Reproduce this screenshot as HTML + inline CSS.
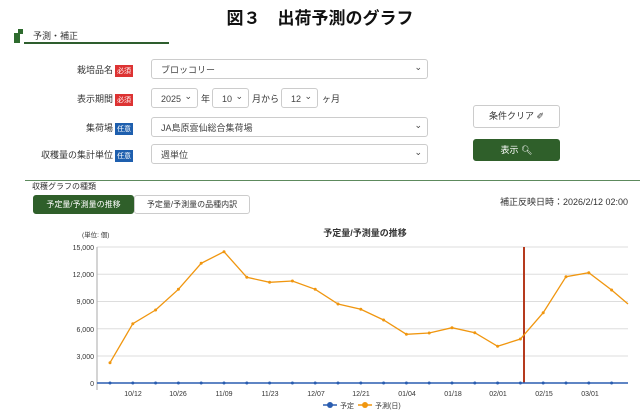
<!DOCTYPE html>
<html><head><meta charset="utf-8"><style>
body{margin:0;width:640px;height:418px;background:#fff;font-family:"Liberation Sans","Noto Sans CJK JP",sans-serif;position:relative;overflow:hidden;color:#333}
.a{position:absolute;white-space:nowrap}
.lbl{font-size:9px;text-align:right;width:120px;left:0}
.bd{display:inline-block;font-size:7px;color:#fff;padding:1px 2px;margin-left:2px;vertical-align:middle}
.sel{position:absolute;border:1px solid #ccc;border-radius:3px;height:20px;font-size:9px;line-height:20px;padding-left:9px;box-sizing:border-box;color:#444;background:#fff}
.sel:after{content:"⌄";position:absolute;right:5px;top:-3px;font-size:9px}
.btn{position:absolute;border:1px solid #ccc;border-radius:3px;font-size:9px;text-align:center;box-sizing:border-box}
</style></head><body>
<div class="a" style="left:0;width:640px;text-align:center;top:4px;font-size:17px;font-weight:bold;color:#111">図３　出荷予測のグラフ</div>
<div class="a" style="left:14px;top:33px;width:6px;height:10px;background:#2e6b2e"></div>
<div class="a" style="left:18px;top:29px;width:5px;height:5px;background:#2e6b2e"></div>
<div class="a" style="left:33px;top:29px;font-size:9px">予測・補正</div>
<div class="a" style="left:24px;top:42px;width:145px;height:2px;background:#2e5e2e"></div>

<div class="a lbl" style="top:63px;width:133px">栽培品名<span class="bd" style="background:#d33">必須</span></div>
<div class="sel" style="left:151px;top:59px;width:277px">ブロッコリー</div>
<div class="a lbl" style="top:92px;width:133px">表示期間<span class="bd" style="background:#d33">必須</span></div>
<div class="sel" style="left:151px;top:88px;width:47px">2025</div>
<div class="a" style="left:201px;top:92px;font-size:9px">年</div>
<div class="sel" style="left:212px;top:88px;width:37px">10</div>
<div class="a" style="left:252px;top:92px;font-size:9px">月から</div>
<div class="sel" style="left:281px;top:88px;width:37px">12</div>
<div class="a" style="left:322px;top:92px;font-size:9px">ヶ月</div>
<div class="a lbl" style="top:121px;width:133px">集荷場<span class="bd" style="background:#1e5fae">任意</span></div>
<div class="sel" style="left:151px;top:117px;width:277px">JA島原雲仙総合集荷場</div>
<div class="a lbl" style="top:148px;width:133px">収穫量の集計単位<span class="bd" style="background:#1e5fae">任意</span></div>
<div class="sel" style="left:151px;top:144px;width:277px">週単位</div>
<div class="btn" style="left:473px;top:105px;width:87px;height:23px;line-height:21px">条件クリア ✐</div>
<div class="btn" style="left:473px;top:139px;width:87px;height:22px;line-height:20px;background:#2f5f2a;color:#fff;border-color:#2f5f2a">表示 🔍︎</div>
<div class="a" style="left:25px;top:180px;width:615px;height:1px;background:#5d8a5d"></div>
<div class="a" style="left:32px;top:181px;font-size:8px">収穫グラフの種類</div>
<div class="btn" style="left:33px;top:195px;width:101px;height:19px;line-height:17px;background:#2f5f2a;color:#fff;border-color:#2f5f2a;font-size:8px">予定量/予測量の推移</div>
<div class="btn" style="left:134px;top:195px;width:116px;height:19px;line-height:17px;font-size:8px">予定量/予測量の品種内訳</div>
<div class="a" style="right:12px;top:195px;font-size:9px">補正反映日時：2026/2/12 02:00</div>

<svg class="a" style="left:0;top:0" width="640" height="418" font-family="Liberation Sans,Noto Sans CJK JP,sans-serif">
<text x="82" y="237" font-size="6.5" fill="#333">(単位: 個)</text>
<text x="365" y="236" font-size="9" font-weight="bold" text-anchor="middle" fill="#333">予定量/予測量の推移</text>
<g stroke="#ddd" stroke-width="1">
<line x1="97" x2="628" y1="247" y2="247"/><line x1="97" x2="628" y1="274.3" y2="274.3"/><line x1="97" x2="628" y1="301.5" y2="301.5"/><line x1="97" x2="628" y1="328.8" y2="328.8"/><line x1="97" x2="628" y1="356" y2="356"/></g>
<line x1="97" x2="97" y1="247" y2="390" stroke="#aaa"/>
<g font-size="7" fill="#333" text-anchor="end">
<text x="94" y="250">15,000</text><text x="94" y="277">12,000</text><text x="94" y="304">9,000</text><text x="94" y="332">6,000</text><text x="94" y="359">3,000</text><text x="94" y="386">0</text></g>
<g font-size="7" fill="#333" text-anchor="middle">
<text x="133" y="396">10/12</text><text x="178" y="396">10/26</text><text x="224" y="396">11/09</text><text x="270" y="396">11/23</text><text x="316" y="396">12/07</text><text x="361" y="396">12/21</text><text x="407" y="396">01/04</text><text x="453" y="396">01/18</text><text x="498" y="396">02/01</text><text x="544" y="396">02/15</text><text x="590" y="396">03/01</text></g>
<line x1="524" x2="524" y1="247" y2="383" stroke="#b53a1e" stroke-width="2"/>
<line x1="97" x2="628" y1="383" y2="383" stroke="#2a5db0" stroke-width="1.5"/>
<g fill="#2a5db0">
<circle cx="110" cy="383" r="1.5"/><circle cx="132.8" cy="383" r="1.5"/><circle cx="155.6" cy="383" r="1.5"/><circle cx="178.4" cy="383" r="1.5"/><circle cx="201.2" cy="383" r="1.5"/><circle cx="224" cy="383" r="1.5"/><circle cx="246.8" cy="383" r="1.5"/><circle cx="269.6" cy="383" r="1.5"/><circle cx="292.4" cy="383" r="1.5"/><circle cx="315.2" cy="383" r="1.5"/><circle cx="338" cy="383" r="1.5"/><circle cx="360.8" cy="383" r="1.5"/><circle cx="383.6" cy="383" r="1.5"/><circle cx="406.4" cy="383" r="1.5"/><circle cx="429.2" cy="383" r="1.5"/><circle cx="452" cy="383" r="1.5"/><circle cx="474.8" cy="383" r="1.5"/><circle cx="497.6" cy="383" r="1.5"/><circle cx="520.4" cy="383" r="1.5"/><circle cx="543.2" cy="383" r="1.5"/><circle cx="566" cy="383" r="1.5"/><circle cx="588.8" cy="383" r="1.5"/><circle cx="611.6" cy="383" r="1.5"/></g>
<polyline fill="none" stroke="#f0960f" stroke-width="1.3" points="110,362.7 132.8,323.7 155.6,310 178.4,289.3 201.2,263.3 224,251.7 246.8,277.3 269.6,282.3 292.4,281 315.2,289.3 338,304 360.8,309.3 383.6,320 406.4,334.3 429.2,333 452,327.7 474.8,332.7 497.6,346.3 520.4,339 543.2,312.7 566,276.7 588.8,272.7 611.6,290 628,304"/>
<g fill="#f0960f">
<circle cx="110" cy="362.7" r="1.5"/><circle cx="132.8" cy="323.7" r="1.5"/><circle cx="155.6" cy="310" r="1.5"/><circle cx="178.4" cy="289.3" r="1.5"/><circle cx="201.2" cy="263.3" r="1.5"/><circle cx="224" cy="251.7" r="1.5"/><circle cx="246.8" cy="277.3" r="1.5"/><circle cx="269.6" cy="282.3" r="1.5"/><circle cx="292.4" cy="281" r="1.5"/><circle cx="315.2" cy="289.3" r="1.5"/><circle cx="338" cy="304" r="1.5"/><circle cx="360.8" cy="309.3" r="1.5"/><circle cx="383.6" cy="320" r="1.5"/><circle cx="406.4" cy="334.3" r="1.5"/><circle cx="429.2" cy="333" r="1.5"/><circle cx="452" cy="327.7" r="1.5"/><circle cx="474.8" cy="332.7" r="1.5"/><circle cx="497.6" cy="346.3" r="1.5"/><circle cx="520.4" cy="339" r="1.5"/><circle cx="543.2" cy="312.7" r="1.5"/><circle cx="566" cy="276.7" r="1.5"/><circle cx="588.8" cy="272.7" r="1.5"/><circle cx="611.6" cy="290" r="1.5"/></g>
<line x1="323" x2="337" y1="405" y2="405" stroke="#2a5db0" stroke-width="1.5"/><circle cx="330" cy="405" r="3" fill="#2a5db0"/>
<text x="340" y="408" font-size="7" fill="#333">予定</text>
<line x1="358" x2="372" y1="405" y2="405" stroke="#f0960f" stroke-width="1.5"/><circle cx="365" cy="405" r="3" fill="#f0960f"/>
<text x="375" y="408" font-size="7" fill="#333">予測(日)</text>
</svg>
</body></html>
